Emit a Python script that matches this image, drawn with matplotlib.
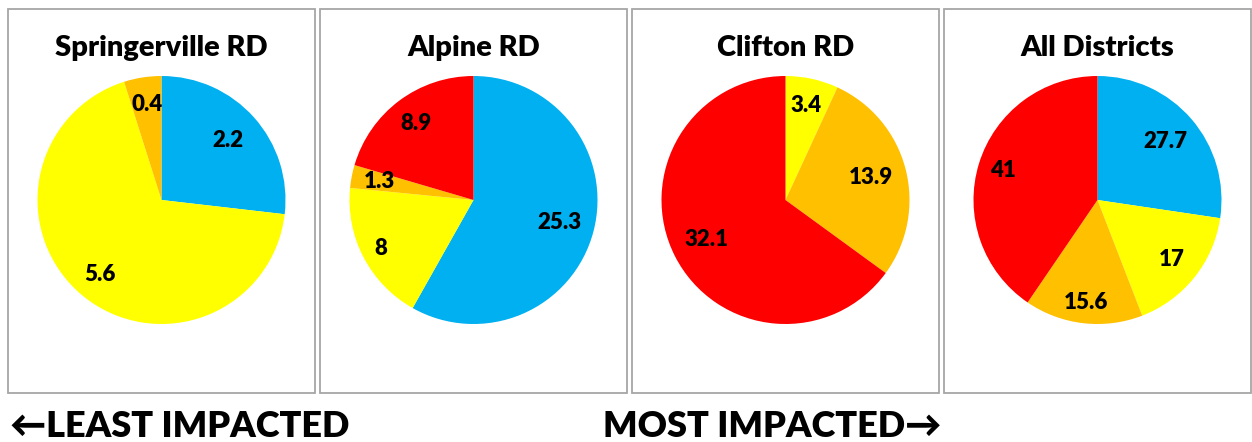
import numpy as np
import matplotlib
matplotlib.use("Agg")
import matplotlib.pyplot as plt
from matplotlib.patches import Rectangle

# data: slices go clockwise from 12 o'clock (blue, yellow, orange, red)
districts = ["Springerville RD", "Alpine RD", "Clifton RD", "All Districts"]
blue = [2.2, 25.3, 0.0, 27.7]
yellow = [5.6, 8.0, 3.4, 17.0]
orange = [0.4, 1.3, 13.9, 15.6]
red = [0.0, 8.9, 32.1, 41.0]
left_text = "\u2190LEAST IMPACTED"
right_text = "MOST IMPACTED\u2192"

colors = ["#00B0F0", "#FFFF00", "#FFC000", "#FF0000"]
# how far out (fraction of radius) each data label sits, per chart
label_r = [
    [0.72, 0.78, 0.78, 0.75],
    [0.72, 0.84, 0.77, 0.77],
    [0.75, 0.78, 0.71, 0.71],
    [0.72, 0.77, 0.83, 0.80],
]

plt.rcParams["font.family"] = ["Lato", "DejaVu Sans"]
W, H = 1252, 442
fig = plt.figure(figsize=(W / 100, H / 100), dpi=100)

box_left = [8, 320, 632, 944]
box_w = 307
box_top, box_bot = 9, 393
radius = 124
wt = "heavy"


def fmt(v):
    return f"{v:g}"


for i, name in enumerate(districts):
    x0 = box_left[i]
    fig.patches.append(Rectangle((x0 / W, 1 - box_bot / H), box_w / W,
                                 (box_bot - box_top) / H, transform=fig.transFigure,
                                 fill=False, edgecolor="#A6A6A6", lw=1.3))
    cx = x0 + box_w / 2
    cy = 200
    fig.text(cx / W, 1 - 48 / H, name, ha="center", va="center",
             fontsize=21, fontweight=wt)

    ax = fig.add_axes([(cx - radius) / W, 1 - (cy + radius) / H,
                       2 * radius / W, 2 * radius / H])
    vals = np.array([blue[i], yellow[i], orange[i], red[i]])
    wedges, _ = ax.pie(vals, colors=colors, startangle=90, counterclock=False,
                       wedgeprops=dict(linewidth=0))
    ax.set_xlim(-1, 1)
    ax.set_ylim(-1, 1)
    ax.set_aspect("equal")
    ax.axis("off")
    for k, w in enumerate(wedges):
        if vals[k] <= 0:
            continue
        mid = np.deg2rad((w.theta1 + w.theta2) / 2)
        r = label_r[i][k]
        ax.text(r * np.cos(mid), r * np.sin(mid), fmt(vals[k]), ha="center",
                va="center", fontsize=16, fontweight=wt)

fig.text(10 / W, 5 / H, left_text, ha="left", va="baseline",
         fontsize=26, fontweight=wt)
fig.text(603 / W, 5 / H, right_text, ha="left", va="baseline",
         fontsize=26, fontweight=wt)

fig.savefig("out.png", dpi=100)
